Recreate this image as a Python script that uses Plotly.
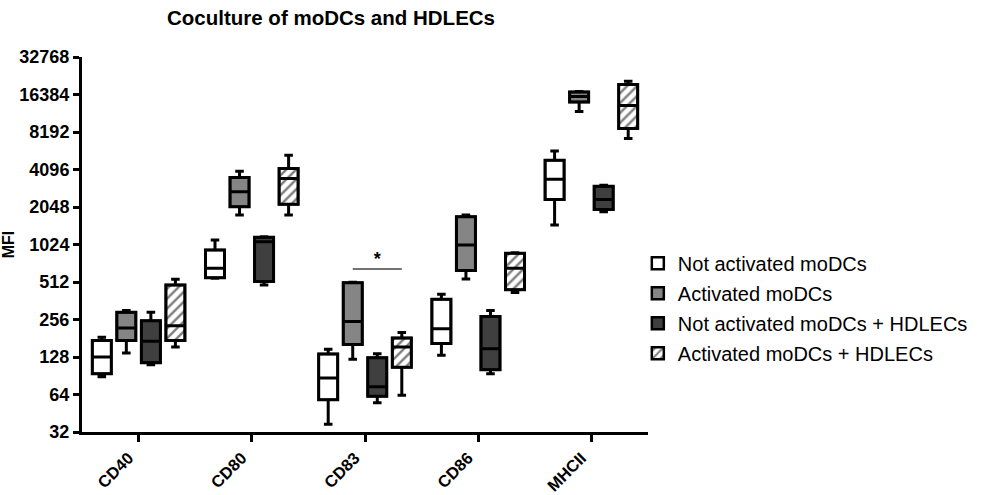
import plotly.graph_objects as go

categories = ["CD40", "CD80", "CD83", "CD86", "MHCII"]
series_names = ["Not activated moDCs", "Activated moDCs",
                "Not activated moDCs + HDLECs", "Activated moDCs + HDLECs"]

# Not activated moDCs
na_min = [89, 550, 37, 132, 1467]
na_q1 = [94, 555, 58, 164, 2353]
na_med = [128, 660, 87, 216, 3425]
na_q3 = [174, 925, 135, 373, 4861]
na_max = [184, 1113, 148, 409, 5772]

# Activated moDCs
a_min = [138, 1765, 123, 542, 11990]
a_q1 = [174, 2055, 161, 632, 14240]
a_med = [219, 2710, 247, 1015, 15820]
a_q3 = [293, 3534, 504, 1710, 17120]
a_max = [302, 3970, 510, 1765, 17300]

# Not activated moDCs + HDLECs
nah_min = [111, 485, 55, 94, 1880]
nah_q1 = [115, 516, 62, 101, 1960]
nah_med = [171, 1078, 74, 149, 2353]
nah_q3 = [250, 1170, 126, 271, 3000]
nah_max = [293, 1182, 136, 302, 3066]

# Activated moDCs + HDLECs
ah_min = [154, 1765, 63, 421, 7250]
ah_q1 = [174, 2150, 106, 443, 8720]
ah_med = [228, 3470, 154, 660, 13400]
ah_q3 = [485, 4173, 182, 870, 19740]
ah_max = [539, 5330, 201, 881, 20970]

tick_vals = [32, 64, 128, 256, 512, 1024, 2048, 4096, 8192, 16384, 32768]

# significance: CD83, Activated moDCs vs Activated moDCs + HDLECs
sig_category_index = 2
sig_from, sig_to = 1, 3
sig_level = 652
sig_label = "*"

stats = [
    (na_min, na_q1, na_med, na_q3, na_max),
    (a_min, a_q1, a_med, a_q3, a_max),
    (nah_min, nah_q1, nah_med, nah_q3, nah_max),
    (ah_min, ah_q1, ah_med, ah_q3, ah_max),
]
fills = ["#ffffff", "#858585", "#3f3f3f", "#ffffff"]
patterns = ["", "", "", "/"]

GAP = 0.133
GROUPGAP = 0.225
FONT = "Liberation Sans, Arial, sans-serif"

fig = go.Figure()

for i, (mn, q1, med, q3, mx) in enumerate(stats):
    fig.add_trace(go.Bar(
        x=categories,
        y=[b - a for a, b in zip(q1, q3)],
        base=q1,
        name=series_names[i],
        legendgroup=f"g{i}",
        marker=dict(color=fills[i], line=dict(color="black", width=2.5),
                    pattern=dict(shape=patterns[i], fgcolor="black", bgcolor="white",
                                 size=7, solidity=0.35)),
        hoverinfo="skip",
    ))

for i, (mn, q1, med, q3, mx) in enumerate(stats):
    fig.add_trace(go.Box(
        x=categories,
        q1=q1, median=med, q3=q3, lowerfence=mn, upperfence=mx,
        name=series_names[i],
        legendgroup=f"g{i}",
        showlegend=False,
        fillcolor="rgba(0,0,0,0)",
        line=dict(color="black", width=3),
        whiskerwidth=0.45,
        boxpoints=False,
        hoverinfo="skip",
    ))

# significance marker on an overlaid linear axis with matching range
slot = (1 - GAP) / 4
x_a = sig_category_index + (sig_from + 0.5 - 2) * slot
x_b = sig_category_index + (sig_to + 0.5 - 2) * slot
fig.add_trace(go.Scatter(
    x=[x_a, x_b], y=[sig_level, sig_level], xaxis="x2",
    mode="lines", line=dict(color="#444444", width=1.5),
    showlegend=False, hoverinfo="skip",
))
fig.add_trace(go.Scatter(
    x=[(x_a + x_b) / 2], y=[sig_level * 1.17], xaxis="x2",
    mode="text", text=[sig_label],
    textfont=dict(family=FONT, size=18, color="black", weight="bold"),
    showlegend=False, hoverinfo="skip",
))

fig.update_layout(
    width=997, height=495,
    margin=dict(l=82, r=349, t=57, b=63),
    paper_bgcolor="white", plot_bgcolor="white",
    barmode="group", bargap=GAP, bargroupgap=GROUPGAP,
    boxmode="group", boxgap=GAP, boxgroupgap=GROUPGAP,
    title=dict(text="Coculture of moDCs and HDLECs", x=0.332, xanchor="center",
               y=0.963, yanchor="middle",
               font=dict(family=FONT, size=20.5, color="black", weight="bold")),
    font=dict(family=FONT, color="black"),
    xaxis=dict(
        type="category", range=[-0.5, 4.5], automargin=False,
        showline=True, linecolor="black", linewidth=3,
        ticks="outside", ticklen=7, tickwidth=3, tickcolor="black",
        tickangle=-45, ticklabelshift=-10,
        tickfont=dict(family=FONT, size=16.5, color="black", weight="bold"),
        showgrid=False, zeroline=False,
    ),
    xaxis2=dict(
        overlaying="x", range=[-0.5, 4.5], visible=False, showgrid=False,
        zeroline=False, fixedrange=True,
    ),
    yaxis=dict(
        type="log", range=[1.50515, 4.51545], automargin=False,
        tickvals=tick_vals, ticktext=[str(v) for v in tick_vals],
        showline=True, linecolor="black", linewidth=3,
        ticks="outside", ticklen=6, tickwidth=3, tickcolor="black",
        tickfont=dict(family=FONT, size=18, color="black", weight="bold"),
        showgrid=False, zeroline=False,
        title=dict(text="MFI", standoff=1,
                   font=dict(family=FONT, size=16, color="black", weight="bold")),
    ),
    legend=dict(
        x=0.982, xanchor="left", y=0.33, yanchor="middle",
        font=dict(family=FONT, size=20, color="black"),
        traceorder="grouped", tracegroupgap=1,
        bgcolor="rgba(0,0,0,0)",
    ),
)

fig.write_html("out.html")
